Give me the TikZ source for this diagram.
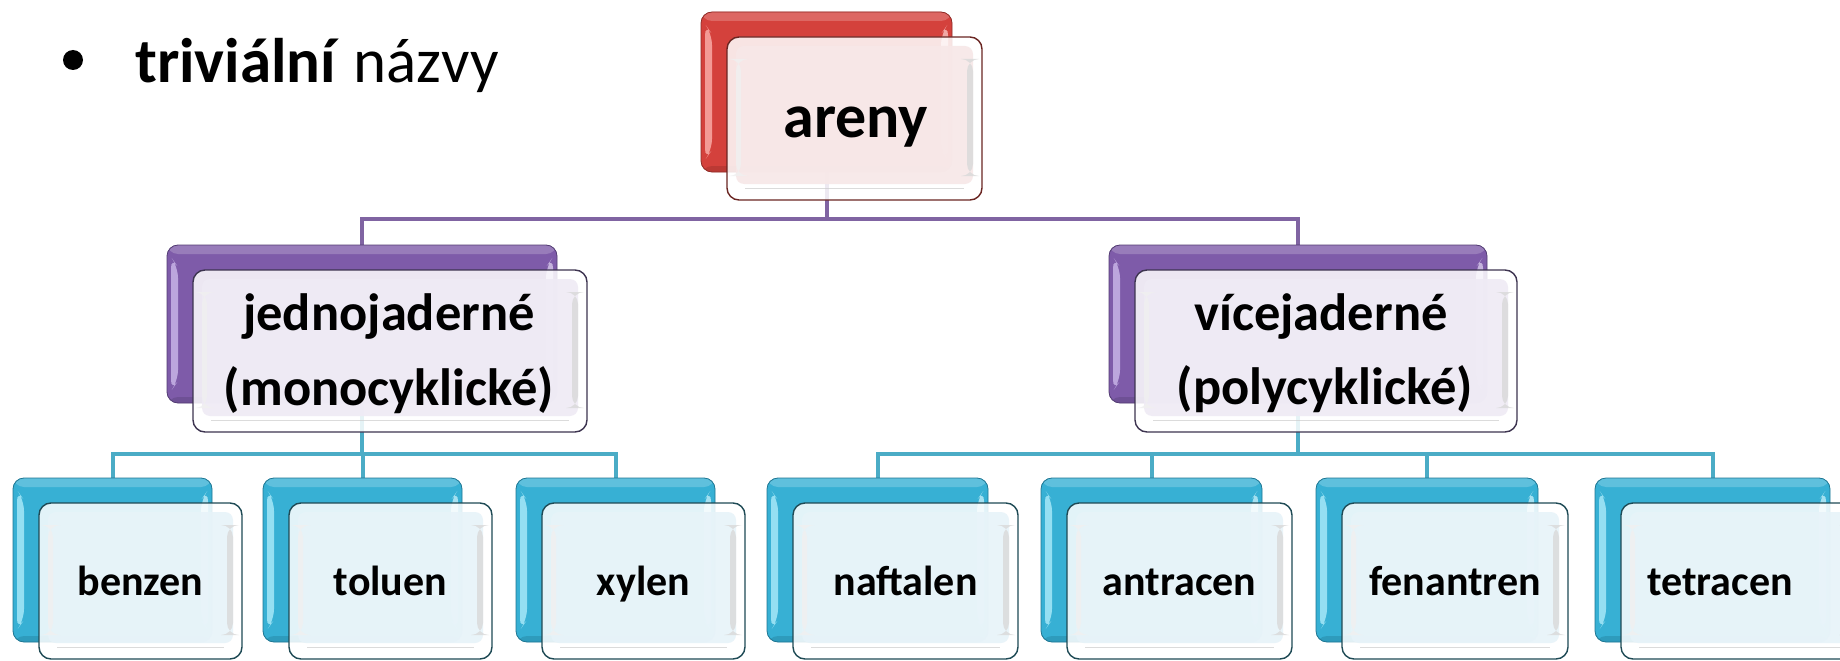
\documentclass[tikz,border=0pt]{standalone}
\usepackage{fontspec}
\setmainfont{Carlito}
\usetikzlibrary{calc,backgrounds}

% colour schemes: R = top level, P = second level, C = leaves
\definecolor{RMain}{HTML}{D4413C}
\definecolor{RLight}{HTML}{F39A95}
\definecolor{RDark}{HTML}{8E2B27}
\definecolor{RTint}{HTML}{F7E8E8}
\definecolor{RLine}{HTML}{6A2522}
\definecolor{PMain}{HTML}{7E5BA9}
\definecolor{PLight}{HTML}{BCA6DD}
\definecolor{PDark}{HTML}{523C72}
\definecolor{PTint}{HTML}{EFEBF5}
\definecolor{PLine}{HTML}{3D3450}
\definecolor{CMain}{HTML}{37B0D4}
\definecolor{CLight}{HTML}{95DFF2}
\definecolor{CDark}{HTML}{1F7692}
\definecolor{CTint}{HTML}{E7F3F9}
\definecolor{CLine}{HTML}{1E4A55}
\definecolor{linkP}{HTML}{8064A2}
\definecolor{linkC}{HTML}{4BACC6}

\tikzset{
  backbox/.style={draw=#1Dark, line width=0.8pt, rounded corners=11pt, fill=#1Main,
    inner sep=0pt, outer sep=0pt,
    path picture={
      \coordinate (pNW) at (path picture bounding box.north west);
      \coordinate (pSE) at (path picture bounding box.south east);
      \coordinate (pNE) at (path picture bounding box.north east);
      \coordinate (pSW) at (path picture bounding box.south west);
      \fill[#1Main!80!white] ($(pNW)+(0,0)$) rectangle ($(pNE)+(0,9)$);
      \fill[#1Light] ($(pNW)+(4,12)$) -- ($(pNW)+(11,22)$) -- ($(pSW)+(11,-22)$) -- ($(pSW)+(4,-12)$) -- cycle;
      \fill[#1Light!60!white, opacity=0.8] ($(pNE)+(-4,12)$) -- ($(pNE)+(-11,22)$) -- ($(pSE)+(-11,-22)$) -- ($(pSE)+(-4,-12)$) -- cycle;
      \fill[#1Dark, opacity=0.35] ($(pSW)+(0,-6)$) rectangle ($(pSE)$);
    }},
  frontbox/.style={draw=#1Line, line width=1.4pt, rounded corners=12pt,
    fill=white, fill opacity=0.86, inner sep=0pt, outer sep=0pt,
    path picture={
      \coordinate (qNW) at (path picture bounding box.north west);
      \coordinate (qSE) at (path picture bounding box.south east);
      \coordinate (qNE) at (path picture bounding box.north east);
      \coordinate (qSW) at (path picture bounding box.south west);
      \fill[#1Tint, fill opacity=0.9, rounded corners=8pt] ($(qNW)+(9,9)$) rectangle ($(qSE)+(-9,-16)$);
      \fill[black!15, fill opacity=0.8] ($(qNE)+(-15,22)$) rectangle ($(qSE)+(-9,-24)$);
      \fill[black!6, fill opacity=0.8] ($(qNW)+(9,22)$) rectangle ($(qSW)+(14,-24)$);
      \draw[black!20, line width=1pt, opacity=0.7] ($(qSW)+(18,-12)$) -- ($(qSE)+(-18,-12)$);
    }},
  toptext/.style={font=\bfseries\fontsize{62}{70}\selectfont, inner sep=0pt, anchor=base},
  midtext/.style={font=\bfseries\fontsize{52.5}{60}\selectfont, inner sep=0pt, anchor=base},
  leaftext/.style={font=\bfseries\fontsize{42}{48}\selectfont, inner sep=0pt, anchor=base},
  linkpurple/.style={draw=linkP, line width=4pt},
  linkcyan/.style={draw=linkC, line width=4pt},
}

% back box from (#3,#4) to (#5,#6), front box shifted and #7 high
\newcommand\pairbox[7]{%
  \pgfmathsetmacro\bcx{(#3+#5)/2}\pgfmathsetmacro\bcy{(#4+#6)/2}%
  \pgfmathsetmacro\bw{#5-#3}\pgfmathsetmacro\bh{#6-#4}%
  \pgfmathsetmacro\fcx{\bcx+28}\pgfmathsetmacro\fcy{#4+25+#7/2}%
  \pgfmathsetmacro\fw{\bw+4}%
  \node[backbox=#2, minimum width=\bw pt, minimum height=\bh pt] (#1B) at (\bcx,\bcy) {};
  \node[frontbox=#2, minimum width=\fw pt, minimum height=#7 pt] (#1) at (\fcx,\fcy) {};
}

\begin{document}
\begin{tikzpicture}[x=1pt,y=-1pt]
\useasboundingbox (0,0) rectangle (1840,661);

% heading
\node[circle, fill=black, inner sep=0pt, minimum size=20pt] (bullet) at (73,60) {};
\node[font=\fontsize{63}{70}\selectfont, inner sep=0pt, anchor=base west] (heading) at (135,82)
  {\textbf{triviální} názvy};

% boxes
\pairbox{root}{R}{701}{12}{952}{172}{163}
\pairbox{mono}{P}{167}{245}{557}{403}{162}
\pairbox{poly}{P}{1109}{245}{1487}{403}{162}
\pairbox{benzen}{C}{13}{478}{212}{642}{156}
\pairbox{toluen}{C}{263}{478}{462}{642}{156}
\pairbox{xylen}{C}{516}{478}{715}{642}{156}
\pairbox{naftalen}{C}{767}{478}{988}{642}{156}
\pairbox{antracen}{C}{1041}{478}{1262}{642}{156}
\pairbox{fenantren}{C}{1316}{478}{1538}{642}{156}
\pairbox{tetracen}{C}{1595}{478}{1830}{642}{156}

% labels
\node[toptext] (rootT) at (856,137) {areny};
\node[midtext] (monoT1) at (389,330) {jednojaderné};
\node[midtext] (monoT2) at (389,405) {(monocyklické)};
\node[midtext] (polyT1) at (1321,330) {vícejaderné};
\node[midtext] (polyT2) at (1325,404) {(polycyklické)};
\node[leaftext] (benzenT) at (140.5,595) {benzen};
\node[leaftext] (toluenT) at (390.5,595) {toluen};
\node[leaftext] (xylenT) at (643.5,595) {xylen};
\node[leaftext] (naftalenT) at (905.5,595) {naftalen};
\node[leaftext] (antracenT) at (1179.5,595) {antracen};
\node[leaftext] (fenantrenT) at (1455,595) {fenantren};
\node[leaftext] (tetracenT) at (1720,595) {tetracen};

% connectors, kept behind the boxes
\begin{pgfonlayer}{background}
  \coordinate (busTop) at (0,219);
  \coordinate (busMono) at (0,454);
  \draw[linkpurple] (rootB.center) -- (rootB.center |- busTop) -| (monoB.north);
  \draw[linkpurple] (rootB.center |- busTop) -| (polyB.north);
  \draw[linkcyan] (monoB.center) -- (monoB.center |- busMono) -| (benzenB.north);
  \draw[linkcyan] (monoB.center |- busMono) -| (toluenB.north);
  \draw[linkcyan] (monoB.center |- busMono) -| (xylenB.north);
  \draw[linkcyan] (polyB.center) -- (polyB.center |- busMono) -| (naftalenB.north);
  \draw[linkcyan] (polyB.center |- busMono) -| (antracenB.north);
  \draw[linkcyan] (polyB.center |- busMono) -| (fenantrenB.north);
  \draw[linkcyan] (polyB.center |- busMono) -| (tetracenB.north);
\end{pgfonlayer}
\end{tikzpicture}
\end{document}
